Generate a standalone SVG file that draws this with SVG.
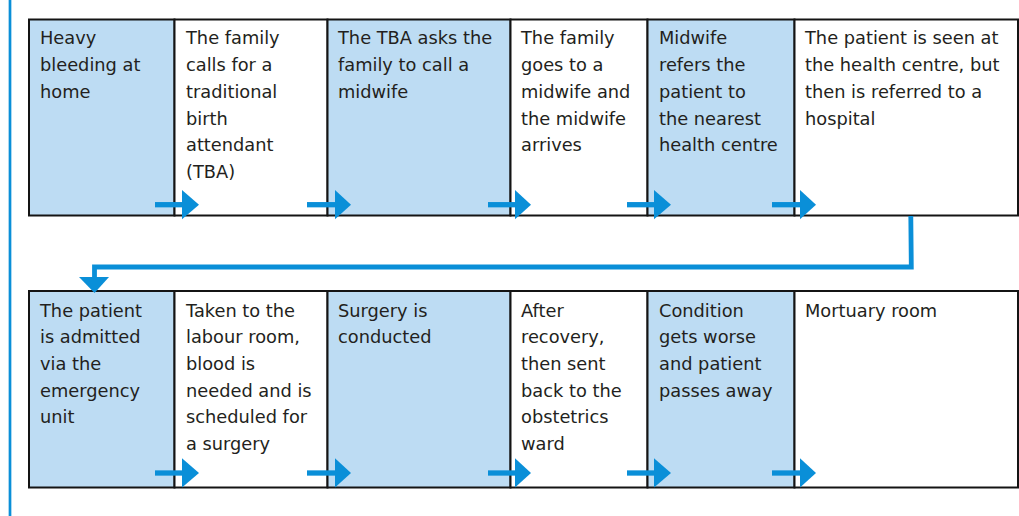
<svg xmlns="http://www.w3.org/2000/svg" width="1019" height="516" viewBox="0 0 1019 516">
  <defs>
    <style>
      .cell { stroke: #141414; stroke-width: 2; }
      .blue { fill: #BDDCF3; }
      .white { fill: #FFFFFF; }
      .txt { font-family: "DejaVu Sans", "Liberation Sans", sans-serif; font-size: 17.8px; fill: #231F20; }
      .shaft { stroke: #0A8FD8; stroke-width: 5.3; fill: none; }
      .head { fill: #0A8FD8; }
      .conn { stroke: #0A8FD8; stroke-width: 4.8; fill: none; }
    </style>
  </defs>
  <rect x="0" y="0" width="1019" height="516" fill="#FFFFFF"/>
  <!-- left margin rule -->
  <line x1="10" y1="0" x2="10" y2="516" stroke="#0A8FD8" stroke-width="2.7"/>

  <!-- Top row -->
  <g id="node-t1">
    <rect class="cell blue" x="29" y="19.5" width="145.5" height="196"/>
    <text class="txt" x="40"><tspan x="40" y="44.3">Heavy</tspan><tspan x="40" y="71">bleeding at</tspan><tspan x="40" y="97.8">home</tspan></text>
  </g>
  <g id="node-t2">
    <rect class="cell white" x="174.5" y="19.5" width="153" height="196"/>
    <text class="txt"><tspan x="186" y="44.3">The family</tspan><tspan x="186" y="71">calls for a</tspan><tspan x="186" y="97.8">traditional</tspan><tspan x="186" y="124.6">birth</tspan><tspan x="186" y="151.4">attendant</tspan><tspan x="186" y="178.2">(TBA)</tspan></text>
  </g>
  <g id="node-t3">
    <rect class="cell blue" x="327.5" y="19.5" width="183" height="196"/>
    <text class="txt"><tspan x="338" y="44.3">The TBA asks the</tspan><tspan x="338" y="71">family to call a</tspan><tspan x="338" y="97.8">midwife</tspan></text>
  </g>
  <g id="node-t4">
    <rect class="cell white" x="510.5" y="19.5" width="137" height="196"/>
    <text class="txt"><tspan x="521" y="44.3">The family</tspan><tspan x="521" y="71">goes to a</tspan><tspan x="521" y="97.8">midwife and</tspan><tspan x="521" y="124.6">the midwife</tspan><tspan x="521" y="151.4">arrives</tspan></text>
  </g>
  <g id="node-t5">
    <rect class="cell blue" x="647.5" y="19.5" width="147" height="196"/>
    <text class="txt"><tspan x="659" y="44.3">Midwife</tspan><tspan x="659" y="71">refers the</tspan><tspan x="659" y="97.8">patient to</tspan><tspan x="659" y="124.6">the nearest</tspan><tspan x="659" y="151.4">health centre</tspan></text>
  </g>
  <g id="node-t6">
    <rect class="cell white" x="794.5" y="19.5" width="223.5" height="196"/>
    <text class="txt"><tspan x="805" y="44.3">The patient is seen at</tspan><tspan x="805" y="71">the health centre, but</tspan><tspan x="805" y="97.8">then is referred to a</tspan><tspan x="805" y="124.6">hospital</tspan></text>
  </g>

  <!-- Bottom row -->
  <g id="node-b1">
    <rect class="cell blue" x="29" y="291" width="145.5" height="196.5"/>
    <text class="txt"><tspan x="40" y="316.7">The patient</tspan><tspan x="40" y="343.3">is admitted</tspan><tspan x="40" y="370">via the</tspan><tspan x="40" y="396.7">emergency</tspan><tspan x="40" y="423.3">unit</tspan></text>
  </g>
  <g id="node-b2">
    <rect class="cell white" x="174.5" y="291" width="153" height="196.5"/>
    <text class="txt"><tspan x="186" y="316.7">Taken to the</tspan><tspan x="186" y="343.3">labour room,</tspan><tspan x="186" y="370">blood is</tspan><tspan x="186" y="396.7">needed and is</tspan><tspan x="186" y="423.3">scheduled for</tspan><tspan x="186" y="450">a surgery</tspan></text>
  </g>
  <g id="node-b3">
    <rect class="cell blue" x="327.5" y="291" width="183" height="196.5"/>
    <text class="txt"><tspan x="338" y="316.7">Surgery is</tspan><tspan x="338" y="343.3">conducted</tspan></text>
  </g>
  <g id="node-b4">
    <rect class="cell white" x="510.5" y="291" width="137" height="196.5"/>
    <text class="txt"><tspan x="521" y="316.7">After</tspan><tspan x="521" y="343.3">recovery,</tspan><tspan x="521" y="370">then sent</tspan><tspan x="521" y="396.7">back to the</tspan><tspan x="521" y="423.3">obstetrics</tspan><tspan x="521" y="450">ward</tspan></text>
  </g>
  <g id="node-b5">
    <rect class="cell blue" x="647.5" y="291" width="147" height="196.5"/>
    <text class="txt"><tspan x="659" y="316.7">Condition</tspan><tspan x="659" y="343.3">gets worse</tspan><tspan x="659" y="370">and patient</tspan><tspan x="659" y="396.7">passes away</tspan></text>
  </g>
  <g id="node-b6">
    <rect class="cell white" x="794.5" y="291" width="223.5" height="196.5"/>
    <text class="txt"><tspan x="805" y="316.7">Mortuary room</tspan></text>
  </g>

  <!-- Connectors -->
  <g id="connectors">
    <!-- top row arrows -->
    <line class="shaft" x1="155" y1="204.7" x2="183" y2="204.7"/>
    <polygon class="head" points="182,190 199,204.7 182,219.3"/>
    <line class="shaft" x1="307" y1="204.7" x2="336" y2="204.7"/>
    <polygon class="head" points="335,190 351,204.7 335,219.3"/>
    <line class="shaft" x1="488" y1="204.7" x2="516" y2="204.7"/>
    <polygon class="head" points="515,190 531,204.7 515,219.3"/>
    <line class="shaft" x1="627" y1="204.7" x2="655" y2="204.7"/>
    <polygon class="head" points="654,190 671,204.7 654,219.3"/>
    <line class="shaft" x1="772" y1="204.7" x2="801" y2="204.7"/>
    <polygon class="head" points="800,190 816,204.7 800,219.3"/>
    <!-- bottom row arrows -->
    <line class="shaft" x1="155" y1="473" x2="183" y2="473"/>
    <polygon class="head" points="182,458.3 199,473 182,487.5"/>
    <line class="shaft" x1="307" y1="473" x2="336" y2="473"/>
    <polygon class="head" points="335,458.3 351,473 335,487.5"/>
    <line class="shaft" x1="488" y1="473" x2="516" y2="473"/>
    <polygon class="head" points="515,458.3 531,473 515,487.5"/>
    <line class="shaft" x1="627" y1="473" x2="655" y2="473"/>
    <polygon class="head" points="654,458.3 671,473 654,487.5"/>
    <line class="shaft" x1="772" y1="473" x2="801" y2="473"/>
    <polygon class="head" points="800,458.3 816,473 800,487.5"/>
    <!-- row wrap connector -->
    <polyline class="conn" points="910.8,216 911.3,267 94.5,267 94.5,278"/>
    <polygon class="head" points="79,277 109,277 94.5,293"/>
  </g>
</svg>
